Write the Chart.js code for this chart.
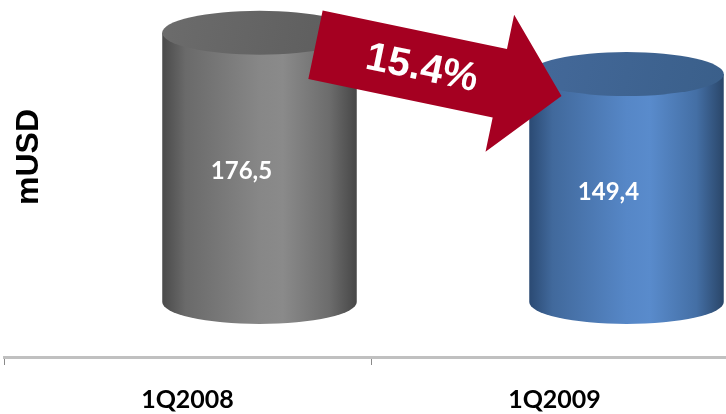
<!DOCTYPE html>
<html>
<head>
<meta charset="utf-8">
<script src="https://cdn.jsdelivr.net/npm/chart.js@4.4.1/dist/chart.umd.min.js"></script>
<style>
  html, body { margin: 0; padding: 0; background: #ffffff; overflow: hidden; width: 726px; height: 414px; }
  #wrap { width: 738px; height: 414px; position: relative; }
</style>
</head>
<body>
<div id="wrap"><canvas id="c"></canvas></div>
<script>
// ---- data ----
const categories = ['1Q2008', '1Q2009'];
const values = [176.5, 149.4];
const valueLabels = ['176,5', '149,4'];
const changeLabel = '15.4%';
const axisTitle = 'mUSD';

// ---- styles ----
const bodyStops = [
  [[0, '#4a4a4a'], [0.12, '#6a6a6a'], [0.5, '#878787'], [0.62, '#8a8a8a'], [0.86, '#6c6c6c'], [1, '#474747']],
  [[0, '#2b4a73'], [0.12, '#41699c'], [0.5, '#5687c7'], [0.62, '#598bcc'], [0.86, '#446fa5'], [1, '#2a4669']]
];
const topColors = [['#6c6c6c', '#5c5c5c'], ['#44699a', '#3a5f8a']];
const arrowColor = '#a50021';
const ARIAL = 'Arial, "Liberation Sans", Helvetica, sans-serif';
const DEPTH_X = 72, DEPTH_Y = 55, RY = 22;

const cylinderPlugin = {
  id: 'cylinders',
  afterDatasetsDraw(chart) {
    const ctx = chart.ctx;
    const meta = chart.getDatasetMeta(0);
    const geo = [];
    ctx.save();
    meta.data.forEach((el, i) => {
      const bx = el.x + DEPTH_X;
      const rx = el.width / 2;
      const topY = el.y - DEPTH_Y;
      const botY = el.base - DEPTH_Y;
      geo.push({ bx, rx, topY, botY });
      // body
      const g = ctx.createLinearGradient(bx - rx, 0, bx + rx, 0);
      bodyStops[i].forEach(s => g.addColorStop(s[0], s[1]));
      ctx.beginPath();
      ctx.moveTo(bx - rx, topY);
      ctx.lineTo(bx - rx, botY);
      ctx.ellipse(bx, botY, rx, RY, 0, Math.PI, 0, true);
      ctx.lineTo(bx + rx, topY);
      ctx.closePath();
      ctx.fillStyle = g;
      ctx.fill();
      // top
      const tg = ctx.createLinearGradient(bx - rx, topY - RY, bx + rx, topY + RY);
      tg.addColorStop(0, topColors[i][0]);
      tg.addColorStop(1, topColors[i][1]);
      ctx.beginPath();
      ctx.ellipse(bx, topY, rx, RY, 0, 0, Math.PI * 2);
      ctx.fillStyle = tg;
      ctx.fill();
      // value label
      ctx.fillStyle = '#ffffff';
      ctx.font = 'bold 24px Lato';
      ctx.textAlign = 'center';
      ctx.textBaseline = 'middle';
      ctx.fillText(valueLabels[i], bx - 18, (topY + botY) / 2 + 4);
    });

    // arrow from first cylinder top to second
    if (geo.length === 2) {
      const a = geo[0], b = geo[1];
      const sx = a.bx + 56, sy = a.topY + 12;
      const tx = b.bx - 65, ty = b.topY + 22;
      const ang = Math.atan2(ty - sy, tx - sx);
      const len = Math.hypot(tx - sx, ty - sy);
      const headLen = 63, shaftHalf = 35, headHalf = 70;
      ctx.save();
      ctx.translate(sx, sy);
      ctx.rotate(ang);
      ctx.beginPath();
      ctx.moveTo(0, -shaftHalf);
      ctx.lineTo(len - headLen, -shaftHalf);
      ctx.lineTo(len - headLen, -headHalf);
      ctx.lineTo(len, 0);
      ctx.lineTo(len - headLen, headHalf);
      ctx.lineTo(len - headLen, shaftHalf);
      ctx.lineTo(0, shaftHalf);
      ctx.closePath();
      ctx.fillStyle = arrowColor;
      ctx.fill();
      ctx.fillStyle = '#ffffff';
      ctx.font = 'bold 40px ' + ARIAL;
      ctx.textAlign = 'center';
      ctx.textBaseline = 'middle';
      ctx.fillText(changeLabel, 109, 2);
      ctx.restore();
    }

    // axis title
    ctx.save();
    ctx.translate(29, 157);
    ctx.rotate(-Math.PI / 2);
    ctx.fillStyle = '#000000';
    ctx.font = 'bold 32px ' + ARIAL;
    ctx.textAlign = 'center';
    ctx.textBaseline = 'middle';
    ctx.fillText(axisTitle, 0, 0);
    ctx.restore();
    ctx.restore();
  }
};

new Chart(document.getElementById('c'), {
  type: 'bar',
  data: {
    labels: categories,
    datasets: [{
      data: values,
      backgroundColor: 'rgba(0,0,0,0)',
      borderWidth: 0,
      barPercentage: 0.53,
      categoryPercentage: 1
    }]
  },
  options: {
    responsive: true,
    maintainAspectRatio: false,
    animation: false,
    layout: { padding: { left: 4, right: 0, top: 0, bottom: -21 } },
    plugins: { legend: { display: false }, tooltip: { enabled: false } },
    scales: {
      x: {
        grid: { offset: true, drawOnChartArea: false, drawTicks: true, tickLength: 8, color: '#8a8a8a', lineWidth: 1 },
        border: { display: true, color: '#c0c0c0', width: 3 },
        ticks: { font: { family: 'Lato', weight: 'bold', size: 25 }, color: '#000000', padding: 20 }
      },
      y: { display: false, min: 0, max: 234 }
    }
  },
  plugins: [cylinderPlugin]
});
</script>
</body>
</html>
